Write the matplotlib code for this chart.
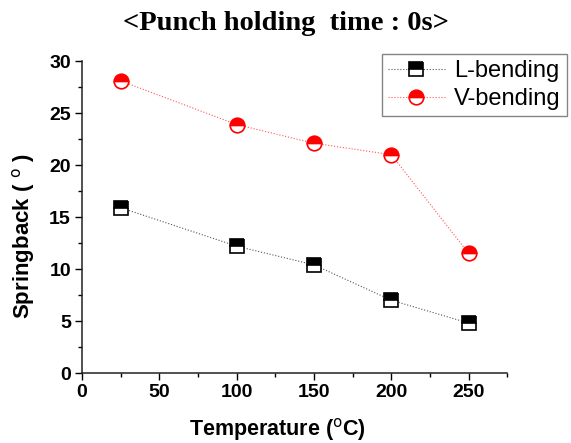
import matplotlib
matplotlib.use("Agg")
import matplotlib.pyplot as plt
from matplotlib.ticker import MultipleLocator

temps = [25, 100, 150, 200, 250]
l_bending = [15.9, 12.2, 10.4, 7.0, 4.8]
v_bending = [28.1, 23.9, 22.1, 21.0, 11.5]

plt.rcParams['font.family'] = ['Liberation Sans', 'DejaVu Sans']
fig = plt.figure(figsize=(5.71, 4.43), dpi=100)
ax = fig.add_axes([0.1436, 0.158, 0.745, 0.704])

ax.plot(temps, l_bending, linestyle=':', color='#555555', linewidth=0.8,
        marker='s', markersize=9.5, markerfacecolor='black', markerfacecoloralt='white',
        fillstyle='top', markeredgecolor='black', markeredgewidth=1.2, label='L-bending')
ax.plot(temps, v_bending, linestyle=':', color='#ff5555', linewidth=0.8,
        marker='o', markersize=10.5, markerfacecolor='red', markerfacecoloralt='white',
        fillstyle='top', markeredgecolor='red', markeredgewidth=1.2, label='V-bending')

ax.set_xlim(0, 275)
ax.set_ylim(0, 30)
ax.xaxis.set_major_locator(MultipleLocator(50))
ax.xaxis.set_minor_locator(MultipleLocator(25))
ax.yaxis.set_major_locator(MultipleLocator(5))
ax.yaxis.set_minor_locator(MultipleLocator(2.5))
for s in ['top', 'right']:
    ax.spines[s].set_visible(False)
for s in ['left', 'bottom']:
    ax.spines[s].set_linewidth(1.1)
    ax.spines[s].set_color('#222222')
ax.tick_params(which='major', direction='out', length=5, width=1.0, labelsize=14, pad=3)
ax.tick_params(which='minor', direction='out', length=3, width=1.0)
for lab in ax.get_xticklabels() + ax.get_yticklabels():
    lab.set_fontweight('bold')

ax.set_xlabel('Temperature ($^{\\mathrm{o}}$C)', fontsize=15.5, fontweight='bold')
ax.set_ylabel('Springback ( $^{\\mathrm{o}}$ )', fontsize=16, fontweight='bold')
ax.xaxis.set_label_coords(0.46, -0.138)
ax.yaxis.set_label_coords(-0.105, 0.44)

fig.text(0.5, 0.948, '<Punch holding  time : 0s>', ha='center', va='center',
         fontsize=20.5, fontweight='bold', family='Liberation Serif')

leg = ax.legend(loc='upper left', bbox_to_anchor=(0.669, 0.878), bbox_transform=fig.transFigure,
                fontsize=17, frameon=True, fancybox=False, edgecolor='#666666',
                handlelength=2.4, borderaxespad=0, borderpad=0.25, labelspacing=0.25,
                handletextpad=0.4)
leg.get_frame().set_linewidth(1.0)

fig.savefig('out.png', dpi=100)
